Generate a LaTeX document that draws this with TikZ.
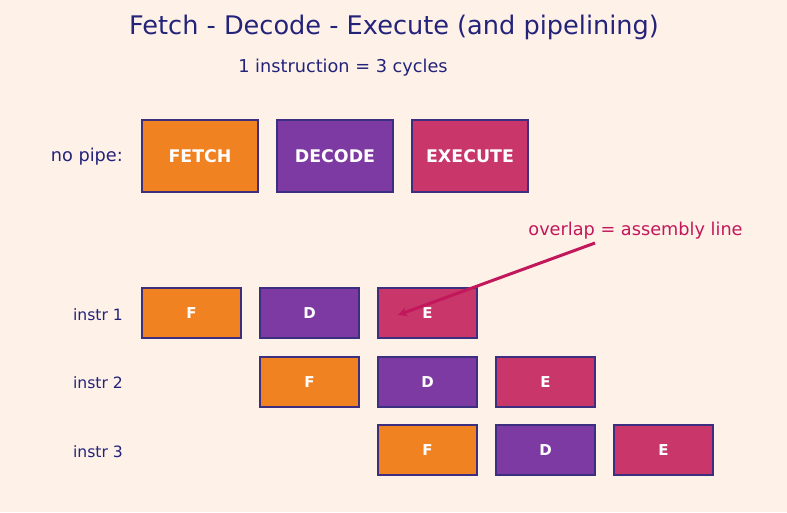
\documentclass[tikz,border=0pt]{standalone}
\usepackage{fontspec}
\setmainfont{DejaVu Sans}
\definecolor{bgcol}{HTML}{FEF1E8}
\definecolor{inkcol}{HTML}{23237A}
\definecolor{edgecol}{HTML}{3C2F80}
\definecolor{fetchcol}{HTML}{F08222}
\definecolor{decodecol}{HTML}{7D3AA2}
\definecolor{execcol}{HTML}{C8366A}
\definecolor{notecol}{HTML}{C2185B}
\tikzset{
  stage/.style={draw=edgecol, line width=2.4pt, text=white, font=\bfseries, inner sep=0pt},
  bigstage/.style={stage, minimum width=116pt, minimum height=72pt, font=\fontsize{17.4}{20}\selectfont\bfseries},
  smallstage/.style={stage, minimum width=99pt, minimum height=50pt, font=\fontsize{15}{17}\selectfont\bfseries},
  rowlabel/.style={text=inkcol, anchor=east, inner sep=0pt, font=\fontsize{15.6}{18}\selectfont}
}
\begin{document}
\begin{tikzpicture}[x=1pt, y=-1pt]
    \fill[bgcol] (0,0) rectangle (787,512);
    \useasboundingbox (0,0) rectangle (787,512);

    \node[text=inkcol, font=\fontsize{25.6}{30}\selectfont] (title) at (394,27.5) {Fetch - Decode - Execute (and pipelining)};
    \node[text=inkcol, font=\fontsize{17.7}{20}\selectfont] (sub) at (343,67.5) {1 instruction = 3 cycles};

    % no pipe
    \node[rowlabel, font=\fontsize{17.7}{20}\selectfont] (np) at (123,157) {no pipe:};
    \node[bigstage, fill=fetchcol] (fetch) at (200,156) {FETCH};
    \node[bigstage, fill=decodecol] (decode) at (335,156) {DECODE};
    \node[bigstage, fill=execcol] (execute) at (470,156) {EXECUTE};

    % pipeline
    \node[rowlabel] (r1) at (123,315) {instr 1};
    \node[rowlabel] (r2) at (123,383) {instr 2};
    \node[rowlabel] (r3) at (123,452) {instr 3};

    \node[smallstage, fill=fetchcol] (f1) at (191.5,313) {F};
    \node[smallstage, fill=decodecol] (d1) at (309.5,313) {D};
    \node[smallstage, fill=execcol] (e1) at (427.5,313) {E};

    \node[smallstage, fill=fetchcol] (f2) at (309.5,382) {F};
    \node[smallstage, fill=decodecol] (d2) at (427.5,382) {D};
    \node[smallstage, fill=execcol] (e2) at (545.5,382) {E};

    \node[smallstage, fill=fetchcol] (f3) at (427.5,450) {F};
    \node[smallstage, fill=decodecol] (d3) at (545.5,450) {D};
    \node[smallstage, fill=execcol] (e3) at (663.5,450) {E};

    \node[text=notecol, font=\fontsize{17.7}{20}\selectfont] (note) at (635.5,230.5) {overlap = assembly line};
    \coordinate (ntail) at (595,243);
    \coordinate (nhead) at ([xshift=-29.5pt,yshift=-2pt]e1.center);
    \draw[notecol, line width=3pt, -stealth] (ntail) -- (nhead);
\end{tikzpicture}
\end{document}
